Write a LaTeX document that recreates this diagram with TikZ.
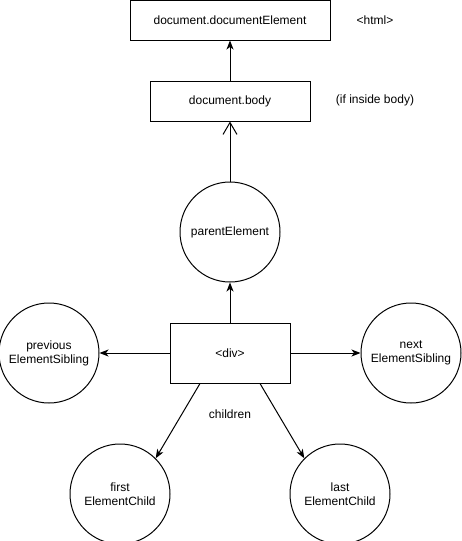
\documentclass[tikz,border=0pt]{standalone}
\usepackage{fontspec}
\setmainfont{Liberation Sans}
\usetikzlibrary{positioning}
\usetikzlibrary{arrows.meta}

\tikzset{
  box/.style={draw, rectangle, inner sep=0pt},
  elem/.style={draw, circle, minimum size=100pt, inner sep=0pt, align=center},
  lbl/.style={inner sep=0pt},
  ptr/.style={-{Stealth[length=9pt, width=7pt, inset=2.5pt]}},
  openptr/.style={-{Straight Barb[length=12pt, width=14pt]}},
}

\begin{document}
\begin{tikzpicture}[x=1pt, y=-1pt, line width=1pt,
    every node/.style={font=\fontsize{12}{14}\selectfont}]
    \useasboundingbox (0,0) rectangle (461,541);

    \node[box, minimum width=200pt, minimum height=40pt] (docel) at (230,20) {document.documentElement};
    \node[box, minimum width=160pt, minimum height=40pt, below=40pt of docel] (body) {document.body};
    \node[elem, below=60pt of body] (parent) {parentElement};
    \node[box, minimum width=120pt, minimum height=60pt, below=40pt of parent] (div) {<div>};

    \node[elem, left=70pt of div] (prev) {previous\\ElementSibling};
    \node[elem, right=70pt of div] (next) {next\\ElementSibling};
    \node[elem, below=60pt of div, xshift=-110pt] (first) {first\\ElementChild};
    \node[elem, below=60pt of div, xshift=110pt] (last) {last\\ElementChild};

    % Labels
    \node[lbl] (html) at (375,20) {<html>};
    \node[lbl] (inbody) at (375,100) {(if inside body)};
    \node[lbl] (children) at (230,414) {children};

    % Edges
    \draw[ptr] (div) -- (parent);
    \draw[openptr] (parent) -- (body);
    \draw[ptr] (body) -- (docel);

    \draw[ptr] (div) -- (prev);
    \draw[ptr] (div) -- (next);

    \draw[ptr] ([xshift=-30pt]div.south) -- (first.north east);
    \draw[ptr] ([xshift=30pt]div.south) -- (last.north west);
\end{tikzpicture}
\end{document}
